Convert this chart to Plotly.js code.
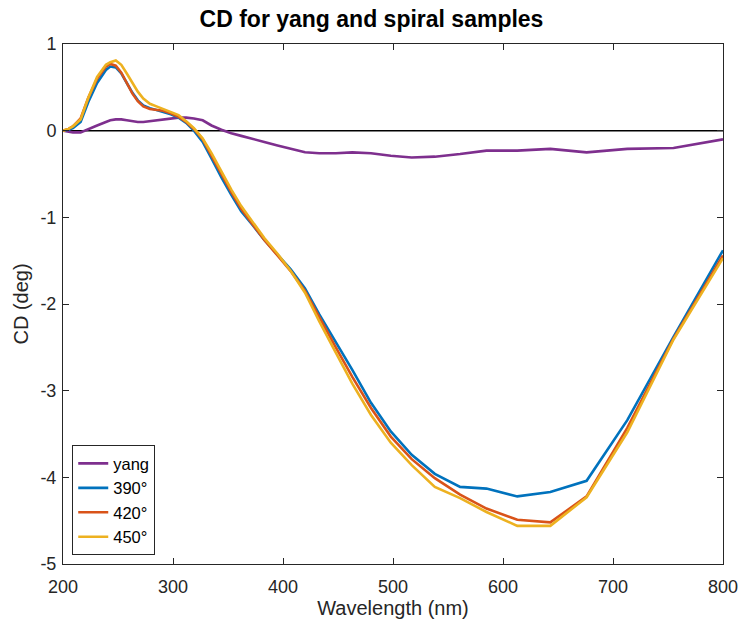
<!DOCTYPE html>
<html>
<head>
<meta charset="utf-8">
<script src="https://cdn.plot.ly/plotly-3.0.1.min.js"></script>
<style>html,body{margin:0;padding:0;background:#fff;}#chart{width:743px;height:623px;}</style>
</head>
<body>
<div id="chart"></div>
<script>
const wavelength = [200,205,209,216,223,231,239,243,248,253,258,263,268,273,279,285,291,298,305,312,319,327,335,344,353,362,373,383,395,407,420,433,448,463,480,498,517,538,561,585,613,643,676,713,755,800];

const yang = [0.0,-0.01,-0.02,-0.02,0.02,0.06,0.10,0.12,0.13,0.13,0.12,0.11,0.10,0.10,0.11,0.12,0.13,0.14,0.15,0.15,0.14,0.12,0.06,0.01,-0.03,-0.06,-0.10,-0.13,-0.17,-0.21,-0.25,-0.26,-0.26,-0.25,-0.26,-0.29,-0.31,-0.30,-0.27,-0.23,-0.23,-0.21,-0.25,-0.21,-0.20,-0.10];

const s390 = [0.0,0.01,0.03,0.10,0.33,0.55,0.70,0.74,0.73,0.66,0.55,0.44,0.35,0.29,0.26,0.24,0.22,0.19,0.15,0.09,0.0,-0.13,-0.32,-0.54,-0.74,-0.93,-1.10,-1.26,-1.43,-1.60,-1.82,-2.12,-2.44,-2.76,-3.14,-3.47,-3.74,-3.96,-4.11,-4.13,-4.22,-4.17,-4.04,-3.34,-2.38,-1.38];

const s420 = [0.0,0.02,0.05,0.14,0.38,0.60,0.74,0.77,0.75,0.67,0.55,0.43,0.34,0.28,0.25,0.24,0.23,0.20,0.16,0.10,0.02,-0.10,-0.28,-0.50,-0.71,-0.90,-1.09,-1.26,-1.44,-1.62,-1.85,-2.16,-2.50,-2.84,-3.20,-3.53,-3.79,-4.01,-4.20,-4.36,-4.49,-4.52,-4.22,-3.43,-2.40,-1.44];

const s450 = [0.0,0.02,0.05,0.13,0.38,0.62,0.76,0.79,0.81,0.76,0.66,0.55,0.45,0.37,0.31,0.28,0.25,0.22,0.18,0.11,0.03,-0.09,-0.26,-0.47,-0.68,-0.87,-1.07,-1.24,-1.42,-1.62,-1.87,-2.20,-2.56,-2.92,-3.28,-3.60,-3.86,-4.11,-4.24,-4.40,-4.56,-4.56,-4.23,-3.48,-2.41,-1.47];

const seriesNames = ['yang','390°','420°','450°'];
const seriesData = [yang, s390, s420, s450];
const seriesColors = ['#7E2F8E','#0072BD','#D95319','#EDB120'];

const xTickVals = [200,300,400,500,600,700,800];
const yTickVals = [-5,-4,-3,-2,-1,0,1];
const yTickText = ['-5','-4','-3','-2','-1','0','1'];

const traces = seriesData.map((v,i)=>({
  x: wavelength, y: v, type:'scatter', mode:'lines', name: seriesNames[i],
  line:{color: seriesColors[i], width:2.6}
}));

const FONT = 'Liberation Sans, Arial, Helvetica, sans-serif';
const axisCommon = {
  showline:true, linecolor:'#262626', linewidth:1, mirror:'ticks',
  ticks:'inside', ticklen:6, tickcolor:'#262626', tickwidth:1,
  showgrid:false, zeroline:false,
  tickfont:{family:FONT, size:18, color:'#262626'}
};

const layout = {
  width:743, height:623,
  margin:{l:63, r:20, t:44, b:59},
  paper_bgcolor:'#fff', plot_bgcolor:'#fff',
  title:{text:'<b>CD for yang and spiral samples</b>', x:0.5, xanchor:'center', y:0.97, yanchor:'middle',
    font:{family:FONT, size:23, color:'#000'}},
  xaxis: Object.assign({}, axisCommon, {range:[200,800], tickvals:xTickVals, ticklabelstandoff:6,
    title:{text:'Wavelength (nm)', standoff:3, font:{family:FONT, size:20, color:'#262626'}}}),
  yaxis: Object.assign({}, axisCommon, {range:[-5,1], tickvals:yTickVals, ticktext:yTickText, ticklabelstandoff:2,
    title:{text:'CD (deg)', standoff:6, font:{family:FONT, size:20, color:'#262626'}}}),
  shapes:[{type:'line', xref:'paper', yref:'y', x0:0, x1:1, y0:0, y1:0, line:{color:'#000', width:1.5}, layer:'below'}],
  legend:{x:0.014, y:0.017, xanchor:'left', yanchor:'bottom', bgcolor:'#fff', bordercolor:'#262626', borderwidth:1,
    font:{family:FONT, size:16.5, color:'#000'}, tracegroupgap:0, itemwidth:30},
  showlegend:true
};

Plotly.newPlot('chart', traces, layout, {displayModeBar:false, staticPlot:true});
</script>
</body>
</html>
